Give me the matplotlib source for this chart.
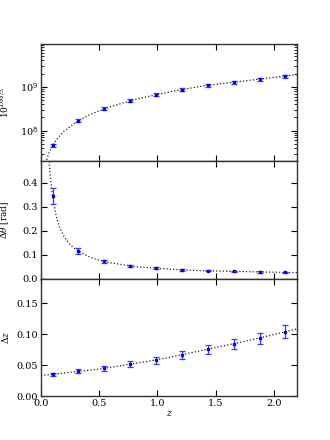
import matplotlib
matplotlib.use("Agg")
import matplotlib.pyplot as plt

plt.rcParams['font.family'] = ['DejaVu Serif']
plt.rcParams['mathtext.fontset'] = 'dejavuserif'

# data points
z_pts = [0.100, 0.322, 0.544, 0.767, 0.989, 1.211, 1.433, 1.656, 1.878, 2.100]
dm_pts = [4.6e7, 1.69e8, 3.18e8, 4.85e8, 6.66e8, 8.7e8, 1.08e9, 1.28e9, 1.50e9, 1.73e9]
dm_err = [4.0e6, 1.4e7, 2.6e7, 3.8e7, 5.0e7, 6.5e7, 8.0e7, 9.5e7, 1.1e8, 1.3e8]
dth_pts = [0.344, 0.115, 0.072, 0.053, 0.043, 0.037, 0.033, 0.031, 0.028, 0.026]
dth_err = [0.033, 0.011, 0.007, 0.005, 0.004, 0.0035, 0.003, 0.003, 0.0028, 0.0026]
dz_pts = [0.035, 0.040, 0.0447, 0.0516, 0.058, 0.0667, 0.0753, 0.0844, 0.0935, 0.1037]
dz_err = [0.003, 0.0035, 0.004, 0.0048, 0.0055, 0.0062, 0.007, 0.008, 0.009, 0.0105]

# model curves
zc_top = [0.03, 0.05, 0.07, 0.1, 0.15, 0.2, 0.3, 0.4, 0.5, 0.6, 0.8, 1.0, 1.2, 1.4, 1.6, 1.8, 2.0, 2.2]
dm_curve = [1.3e7, 2.2e7, 3.15e7, 4.6e7, 7.1e7, 9.8e7, 1.55e8, 2.2e8, 2.85e8, 3.55e8,
            5.1e8, 6.7e8, 8.6e8, 1.05e9, 1.23e9, 1.42e9, 1.64e9, 1.9e9]
zc_mid = [0.04, 0.05, 0.06, 0.07, 0.08, 0.1, 0.13, 0.16, 0.2, 0.25, 0.3, 0.4, 0.5, 0.6,
          0.8, 1.0, 1.2, 1.4, 1.6, 1.8, 2.0, 2.2]
dth_curve = [0.85, 0.69, 0.57, 0.49, 0.43, 0.344, 0.265, 0.215, 0.175, 0.142, 0.122, 0.094,
             0.077, 0.066, 0.051, 0.043, 0.037, 0.033, 0.031, 0.029, 0.027, 0.025]
zc_bot = [0.0, 0.1, 0.3, 0.5, 0.7, 0.9, 1.1, 1.3, 1.5, 1.7, 1.9, 2.1, 2.2]
dz_curve = [0.0334, 0.035, 0.0395, 0.0435, 0.0495, 0.0555, 0.0625, 0.0705, 0.0785,
            0.0865, 0.0950, 0.1040, 0.1086]

xticks = [0.0, 0.5, 1.0, 1.5, 2.0]

fig = plt.figure(figsize=(3.3, 4.4), dpi=100)
fig.subplots_adjust(left=0.124, right=0.9, top=0.9, bottom=0.1, hspace=0)
ax1 = fig.add_subplot(3, 1, 1)
ax2 = fig.add_subplot(3, 1, 2, sharex=ax1)
ax3 = fig.add_subplot(3, 1, 3, sharex=ax1)

ebkw = dict(fmt='s', color='blue', mfc='blue', mec='blue', ms=1.6, capsize=2.2,
            elinewidth=0.9, capthick=0.9, ecolor='#3a3aff', zorder=3)
lkw = dict(color='#222222', ls=':', lw=0.9)

ax1.plot(zc_top, dm_curve, **lkw)
ax1.errorbar(z_pts, dm_pts, yerr=dm_err, **ebkw)
ax1.set_yscale('log')
ax1.set_ylim(2e7, 9.5e9)
ax1.set_ylabel(r'$10^{DM/5}$', fontsize=6.5)

ax2.plot(zc_mid, dth_curve, **lkw)
ax2.errorbar(z_pts, dth_pts, yerr=dth_err, **ebkw)
ax2.set_ylim(0, 0.49)
ax2.set_yticks([0.0, 0.1, 0.2, 0.3, 0.4])
ax2.set_ylabel(r'$\Delta\theta$ [rad]', fontsize=6.5)

ax3.plot(zc_bot, dz_curve, **lkw)
ax3.errorbar(z_pts, dz_pts, yerr=dz_err, **ebkw)
ax3.set_ylim(0, 0.19)
ax3.set_yticks([0.0, 0.05, 0.10, 0.15])
ax3.set_ylabel(r'$\Delta z$', fontsize=6.5)
ax3.set_xlabel(r'$z$', fontsize=6.5, labelpad=1)

ax3.set_xlim(0, 2.2)
ax3.set_xticks(xticks)

for ax in (ax1, ax2, ax3):
    ax.tick_params(which='both', direction='in', top=True, right=True, labelsize=7, pad=2)
    ax.tick_params(which='major', length=4)
    ax.tick_params(which='minor', length=2)
    ax.yaxis.set_label_coords(-0.115, 0.5)
    for s in ax.spines.values():
        s.set_linewidth(1.0)
        s.set_color('#333333')
for ax in (ax1, ax2):
    plt.setp(ax.get_xticklabels(), visible=False)

fig.savefig('out.png', dpi=100)
